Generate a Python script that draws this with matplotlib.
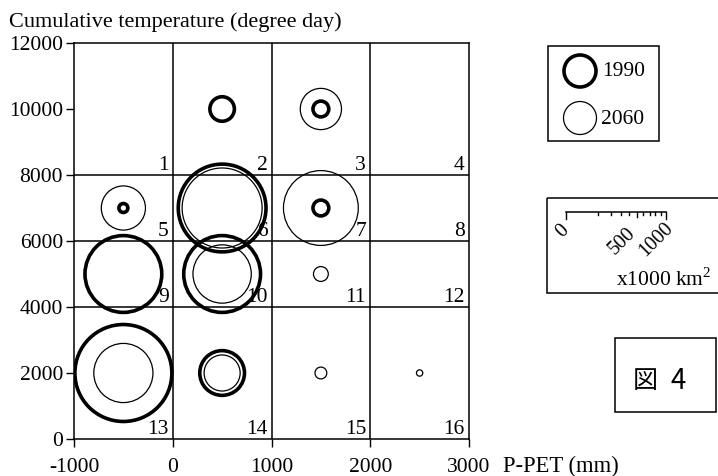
import numpy as np
import matplotlib.pyplot as plt
from matplotlib.patches import Circle, Rectangle

plt.rcParams['font.family'] = ['Liberation Serif', 'Noto Sans CJK JP']
plt.rcParams['mathtext.fontset'] = 'custom'
plt.rcParams['mathtext.rm'] = 'Liberation Serif'
plt.rcParams['axes.unicode_minus'] = False

# region centres: P-PET (mm), cumulative temperature (degree day), area (x1000 km2)
x1990 = [500, 1500, -500, 500, 1500, -500, 500, -500, 500]
y1990 = [10000, 10000, 7000, 7000, 7000, 5000, 5000, 2000, 2000]
a1990 = [60, 25, 8, 770, 25, 590, 590, 940, 200]

x2060 = [1500, -500, 500, 1500, 500, 1500, -500, 500, 1500, 2500]
y2060 = [10000, 7000, 7000, 7000, 5000, 5000, 2000, 2000, 2000, 2000]
a2060 = [170, 195, 640, 560, 340, 22, 350, 130, 14, 4]

x_ticks = [-1000, 0, 1000, 2000, 3000]
y_ticks = [0, 2000, 4000, 6000, 8000, 10000, 12000]
cell_right = [0, 1000, 2000, 3000]
cell_bottom = [8000, 6000, 4000, 0]
scale_ticks = [0, 100, 200, 300, 400, 500, 600, 700, 800, 900, 1000]

W, H = 718, 476
BAR = 100  # px length of the 1000 mark on the size scale


def diam_px(a):
    return BAR * np.sqrt(np.asarray(a, dtype=float) / 1000)


fig = plt.figure(figsize=(W / 100, H / 100), dpi=100)
ax = fig.add_axes([74 / W, 1 - 439 / H, 395 / W, 396 / H])

ax.scatter(x1990, y1990, s=(diam_px(a1990) * 0.72) ** 2, facecolors='none',
           edgecolors='black', linewidths=2.6, zorder=3)
ax.scatter(x2060, y2060, s=(diam_px(a2060) * 0.72) ** 2, facecolors='none',
           edgecolors='black', linewidths=0.9, zorder=4)

ax.set_xlim(-1000, 3000)
ax.set_ylim(0, 12000)
ax.set_xticks(x_ticks)
ax.set_yticks(y_ticks)
ax.tick_params(direction='out', length=6, width=1, labelsize=15.5, colors='black')
ax.tick_params(axis='x', pad=8)
ax.tick_params(axis='y', pad=2)
for sp in ax.spines.values():
    sp.set_linewidth(1.1)
for xv in cell_right[:-1]:
    ax.axvline(xv, color='black', lw=1.1, zorder=1)
for yv in cell_bottom[:-1]:
    ax.axhline(yv, color='black', lw=1.1, zorder=1)

# cell numbers in the lower right corner of each cell
n = 1
for yb in cell_bottom:
    for xr in cell_right:
        ax.annotate(str(n), (xr, yb), xytext=(-3, 0), textcoords='offset points',
                    ha='right', va='bottom', fontsize=15.5, zorder=5)
        n += 1

# overlay in pixel units for titles, legend and size scale
lay = fig.add_axes([0, 0, 1, 1])
lay.set_xlim(0, W)
lay.set_ylim(H, 0)
lay.axis('off')

lay.text(9, 22, 'Cumulative temperature (degree day)', fontsize=16,
         ha='left', va='center')
lay.text(503, 466, 'P-PET (mm)', fontsize=16.3, ha='left', va='center')

# legend
lay.add_patch(Rectangle((548, 46), 111, 95, fill=False, lw=1.1))
lay.add_patch(Circle((580, 71), 16, fill=False, lw=2.6))
lay.add_patch(Circle((580, 118), 16.5, fill=False, lw=0.9))
lay.text(602, 72, '1990', fontsize=15.5, ha='left', va='center')
lay.text(601, 120, '2060', fontsize=15.5, ha='left', va='center')

# size scale
lay.add_patch(Rectangle((547, 198), 200, 95, fill=False, lw=1.1))
x0, ybar = 566, 212
lay.plot([x0, x0 + BAR], [ybar, ybar], color='black', lw=1.1)
for t in scale_ticks:
    xt = x0 + diam_px(t)
    ln = 7 if t in (0, 1000) else (5 if t == 500 else 3)
    lay.plot([xt, xt], [ybar, ybar + ln], color='black', lw=1.0)
lay.text(563, 231, '0', fontsize=14.5, rotation=45, ha='center', va='center')
lay.text(622, 241, '500', fontsize=14.5, rotation=45, ha='center', va='center')
lay.text(656, 240, '1000', fontsize=14.5, rotation=45, ha='center', va='center')
lay.text(616, 279, r'x1000 km$^{\mathrm{2}}$', fontsize=15.5, ha='left', va='center')

# figure number box
lay.add_patch(Rectangle((615, 338), 101, 74, fill=False, lw=1.1))
lay.text(645, 381, '図', fontsize=18, ha='center', va='center',
         family='Noto Sans CJK JP')
lay.text(678, 381, '4', fontsize=20, ha='center', va='center',
         family='Noto Sans CJK JP')

fig.savefig('out.png', dpi=100)
